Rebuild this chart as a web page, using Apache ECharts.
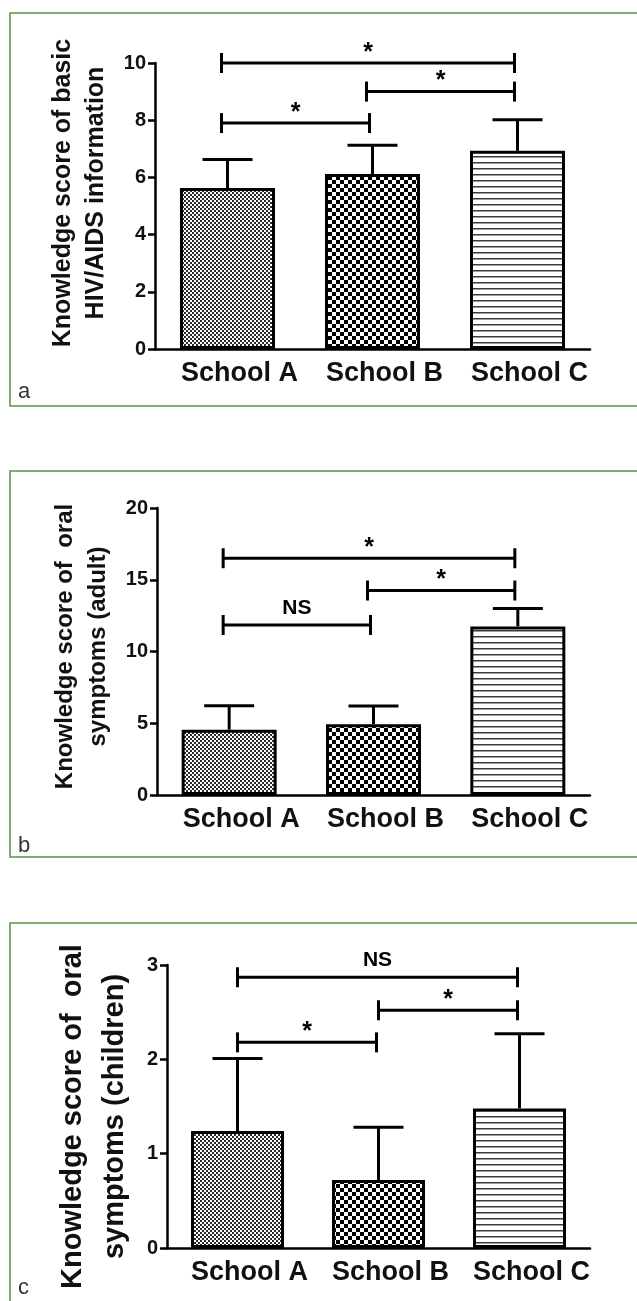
<!DOCTYPE html>
<html>
<head>
<meta charset="utf-8">
<script src="https://cdn.jsdelivr.net/npm/echarts@6/dist/echarts.min.js"></script>
<style>
  html, body { margin: 0; background: #fff; }
  #chart { width: 637px; height: 1301px; }
</style>
</head>
<body>
<div id="chart"></div>
<script>
const schools = ['School A', 'School B', 'School C'];

// a: basic HIV/AIDS information
const basicMean = [5.63, 6.12, 6.93];
const basicUpper = [6.63, 7.12, 8.02];
const basicAxis = [0, 10, 2];
const basicPairs = [[0, 2, 10.0], [1, 2, 9.0], [0, 1, 7.9]];
const basicSig = ['*', '*', '*'];

// b: oral symptoms (adult)
const adultMean = [4.55, 4.93, 11.75];
const adultUpper = [6.22, 6.2, 13.0];
const adultAxis = [0, 20, 5];
const adultPairs = [[0, 2, 16.5], [1, 2, 14.25], [0, 1, 11.85]];
const adultSig = ['*', '*', 'NS'];

// c: oral symptoms (children)
const childMean = [1.24, 0.72, 1.48];
const childUpper = [2.01, 1.28, 2.27];
const childAxis = [0, 3, 1];
const childPairs = [[0, 2, 2.87], [1, 2, 2.52], [0, 1, 2.18]];
const childSig = ['NS', '*', '*'];

const FONT = "'Liberation Sans', Arial, sans-serif";

function checker(cell, dark) {
    const c = document.createElement('canvas');
    c.width = c.height = cell * 2;
    const ctx = c.getContext('2d');
    ctx.fillStyle = '#fff';
    ctx.fillRect(0, 0, cell * 2, cell * 2);
    ctx.fillStyle = dark;
    ctx.fillRect(0, 0, cell, cell);
    ctx.fillRect(cell, cell, cell, cell);
    return c;
}
function stripes(gap, dark) {
    const c = document.createElement('canvas');
    c.width = 4;
    c.height = gap;
    const ctx = c.getContext('2d');
    ctx.fillStyle = '#fff';
    ctx.fillRect(0, 0, 4, gap);
    ctx.fillStyle = dark;
    ctx.fillRect(0, 0, 4, 1.5);
    return c;
}
const fills = [
    { image: checker(2, '#2a2a2a'), repeat: 'repeat' },
    { image: checker(4, '#000'), repeat: 'repeat' },
    { image: stripes(6, '#3a3a3a'), repeat: 'repeat' }
];

const panels = [
    { mean: basicMean, upper: basicUpper, axis: basicAxis, pairs: basicPairs, sig: basicSig,
      name: 'Knowledge score of basic\nHIV/AIDS information', nameSize: 25, nameLine: 33, nameGap: 26,
      namePad: [0, 0, 0, 26],
      grid: { left: 155, right: 47, top: 63, height: 286 }, barWidth: 95, shift: [-6, -3],
      box: [10, 13, 700, 393], letter: 'a', letterY: 392 },
    { mean: adultMean, upper: adultUpper, axis: adultAxis, pairs: adultPairs, sig: adultSig,
      name: 'Knowledge score of  oral\nsymptoms (adult)', nameSize: 24, nameLine: 33, nameGap: 29,
      namePad: [0, 0, 0, 10],
      grid: { left: 157, right: 47, top: 508, height: 287 }, barWidth: 95, shift: [-6, -3],
      box: [10, 471, 700, 386], letter: 'b', letterY: 846 },
    { mean: childMean, upper: childUpper, axis: childAxis, pairs: childPairs, sig: childSig,
      name: 'Knowledge score of  oral\nsymptoms (children)', nameSize: 29, nameLine: 42, nameGap: 25,
      namePad: [0, 20, 0, 0],
      grid: { left: 167, right: 47, top: 965, height: 283 }, barWidth: 93, shift: [0, -2],
      box: [10, 923, 700, 450], letter: 'c', letterY: 1288 }
];

function errorItem(params, api) {
    const base = api.coord([api.value(0), api.value(1)]);
    const end = api.coord([api.value(0), api.value(2)]);
    const st = { stroke: '#000', lineWidth: 3 };
    return {
        type: 'group',
        children: [
            { type: 'line', shape: { x1: base[0], y1: base[1], x2: end[0], y2: end[1] }, style: st },
            { type: 'line', shape: { x1: end[0] - 25, y1: end[1], x2: end[0] + 25, y2: end[1] }, style: st }
        ]
    };
}

function bracketRenderer(panel) {
    return function (params, api) {
        const a = api.coord([api.value(0), api.value(2)]);
        const b = api.coord([api.value(1), api.value(2)]);
        const x1 = a[0] + panel.shift[0];
        const x2 = b[0] + panel.shift[1];
        const y = a[1];
        const st = { stroke: '#000', lineWidth: 3 };
        const label = panel.sig[params.dataIndex];
        const isStar = label === '*';
        return {
            type: 'group',
            children: [
                { type: 'line', shape: { x1: x1, y1: y, x2: x2, y2: y }, style: st },
                { type: 'line', shape: { x1: x1, y1: y - 10, x2: x1, y2: y + 10 }, style: st },
                { type: 'line', shape: { x1: x2, y1: y - 10, x2: x2, y2: y + 10 }, style: st },
                {
                    type: 'text',
                    x: (x1 + x2) / 2,
                    y: isStar ? y - 10 : y - 17,
                    style: {
                        text: label, fill: '#000', align: 'center', verticalAlign: 'middle',
                        fontFamily: FONT, fontWeight: 'bold', fontSize: isStar ? 25 : 21
                    }
                }
            ]
        };
    };
}

const grid = [], xAxis = [], yAxis = [], series = [], graphic = [];
panels.forEach((p, i) => {
    grid.push(p.grid);
    xAxis.push({
        type: 'category', gridIndex: i, data: schools,
        axisLine: { lineStyle: { color: '#000', width: 2.5 } },
        axisTick: { alignWithLabel: true, length: 8, lineStyle: { color: '#000', width: 2.5 } },
        axisLabel: {
            interval: 0, hideOverlap: false, color: '#111', fontFamily: FONT, fontWeight: 'bold',
            fontSize: 27, margin: 11, padding: [0, 0, 0, 24]
        }
    });
    yAxis.push({
        type: 'value', gridIndex: i, min: p.axis[0], max: p.axis[1], interval: p.axis[2],
        name: p.name, nameLocation: 'middle', nameGap: p.nameGap,
        nameTextStyle: {
            color: '#111', fontFamily: FONT, fontWeight: 'bold', fontSize: p.nameSize,
            lineHeight: p.nameLine, padding: p.namePad
        },
        axisLine: { show: true, lineStyle: { color: '#000', width: 2.5 } },
        axisTick: { show: true, length: 7, lineStyle: { color: '#000', width: 2.5 } },
        axisLabel: { color: '#111', fontFamily: FONT, fontWeight: 'bold', fontSize: 20, margin: 9 },
        splitLine: { show: false }
    });
    series.push({
        type: 'bar', xAxisIndex: i, yAxisIndex: i, barWidth: p.barWidth, silent: true,
        data: p.mean.map((v, k) => ({ value: v, itemStyle: { color: fills[k], borderColor: '#000', borderWidth: 3 } }))
    });
    series.push({
        type: 'custom', xAxisIndex: i, yAxisIndex: i, silent: true,
        renderItem: errorItem, encode: { x: 0, y: [1, 2] },
        data: p.mean.map((v, k) => [k, v, p.upper[k]])
    });
    series.push({
        type: 'custom', xAxisIndex: i, yAxisIndex: i, silent: true,
        renderItem: bracketRenderer(p), encode: { x: [0, 1], y: 2 },
        data: p.pairs
    });
    graphic.push({
        type: 'rect', shape: { x: p.box[0], y: p.box[1], width: p.box[2], height: p.box[3] },
        style: { fill: 'none', stroke: '#5b9146', lineWidth: 1.5 }, silent: true
    });
    graphic.push({
        type: 'text', x: 18, y: p.letterY,
        style: { text: p.letter, fill: '#333', fontFamily: FONT, fontSize: 22, verticalAlign: 'middle' }
    });
});

const chart = echarts.init(document.getElementById('chart'));
chart.setOption({
    animation: false,
    backgroundColor: '#fff',
    grid: grid,
    xAxis: xAxis,
    yAxis: yAxis,
    series: series,
    graphic: graphic
});
</script>
</body>
</html>
